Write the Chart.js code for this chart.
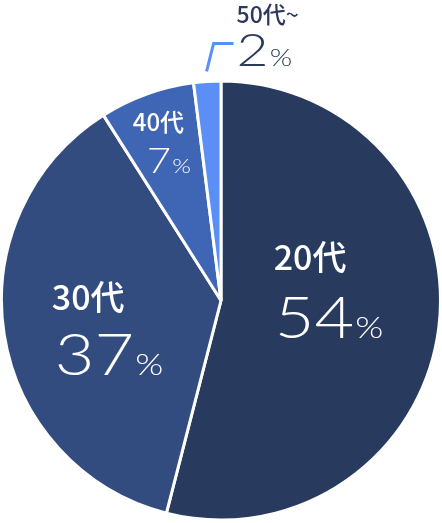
<!DOCTYPE html>
<html>
<head>
<meta charset="utf-8">
<script src="https://cdn.jsdelivr.net/npm/chart.js@4.4.1/dist/chart.umd.min.js"></script>
<style>
  html, body { margin: 0; padding: 0; background: #fff; }
  .wrap { width: 442px; height: 523px; position: relative; }
</style>
</head>
<body>
<div class="wrap"><canvas id="pie"></canvas></div>
<script>
const ageGroups = ['20代', '30代', '40代', '50代~'];
const shares = [54, 37, 7, 2];
const sliceColors = ['#283a5e', '#334c80', '#3f65b5', '#5b8ff5'];

// where each label sits: r = fraction of radius along the slice middle, then offsets
const labelLayout = [
  { r: 0.49, dx: -54, nameDy: -44, numDx: -53, numDy: 24, nameSize: 34, numSize: 57, pctSize: 30, color: '#fff' },
  { r: 0.55, dx: -50, nameDy: -9, numDx: -47, numDy: 56, nameSize: 34, numSize: 57, pctSize: 30, color: '#fff' },
  { r: 0.77, dx: -31, nameDy: -10, numDx: -17, numDy: 32, nameSize: 24, numSize: 35, pctSize: 20, color: '#fff' },
  { r: 0, dx: 0, nameDy: 0, numDx: 0, numDy: 0, nameSize: 23, numSize: 46, pctSize: 24, color: '#2b3a5c', outside: true }
];

const nameFont = s => '500 ' + s + 'px "Noto Sans CJK JP", "Noto Sans", sans-serif';
const numFont = s => '300 ' + s + 'px Lato, "Open Sans", sans-serif';
const NUM_STRETCH = 1.2;

function drawLabel(ctx, y, nameX, numX, L, i) {
  ctx.fillStyle = L.color;
  ctx.textAlign = 'left';
  ctx.textBaseline = 'alphabetic';
  ctx.font = nameFont(L.nameSize);
  ctx.fillText(ageGroups[i], nameX, y.name);
  // the numbers use a wide, light face; stretch Lato Light sideways to match
  const num = String(shares[i]);
  ctx.save();
  ctx.translate(numX, y.num);
  ctx.scale(NUM_STRETCH, 1);
  ctx.font = numFont(L.numSize);
  ctx.fillText(num, 0, 0);
  const w = ctx.measureText(num).width;
  ctx.font = numFont(L.pctSize);
  ctx.fillText('%', w + 1, 0);
  ctx.restore();
}

const pieLabels = {
  id: 'pieLabels',
  afterDraw(chart) {
    const ctx = chart.ctx;
    const meta = chart.getDatasetMeta(0);
    ctx.save();
    meta.data.forEach((arc, i) => {
      const p = arc.getProps(['x', 'y', 'startAngle', 'endAngle', 'outerRadius'], true);
      const mid = (p.startAngle + p.endAngle) / 2;
      const L = labelLayout[i];
      if (L.outside) {
        // leader line from just outside the slice, up and to the right
        const sx = p.x + Math.cos(mid) * (p.outerRadius + 10);
        const sy = p.y + Math.sin(mid) * (p.outerRadius + 10);
        const kx = sx + 7, ky = sy - 28;
        ctx.strokeStyle = sliceColors[i];
        ctx.lineWidth = 3;
        ctx.beginPath();
        ctx.moveTo(sx, sy);
        ctx.lineTo(kx, ky);
        ctx.lineTo(kx + 20, ky);
        ctx.stroke();
        drawLabel(ctx, { name: ky - 20, num: ky + 23 }, kx + 23, kx + 23, L, i);
        return;
      }
      const ax = p.x + Math.cos(mid) * p.outerRadius * L.r;
      const ay = p.y + Math.sin(mid) * p.outerRadius * L.r;
      drawLabel(ctx, { name: ay + L.nameDy, num: ay + L.numDy }, ax + L.dx, ax + L.numDx, L, i);
    });
    ctx.restore();
  }
};

new Chart(document.getElementById('pie'), {
  type: 'pie',
  data: {
    labels: ageGroups,
    datasets: [{
      data: shares,
      backgroundColor: sliceColors,
      borderColor: '#fff',
      borderWidth: 3
    }]
  },
  options: {
    responsive: true,
    maintainAspectRatio: false,
    animation: false,
    layout: { padding: { top: 78, bottom: 0, left: 0, right: 0 } },
    plugins: { legend: { display: false }, tooltip: { enabled: false } }
  },
  plugins: [pieLabels]
});
</script>
</body>
</html>
